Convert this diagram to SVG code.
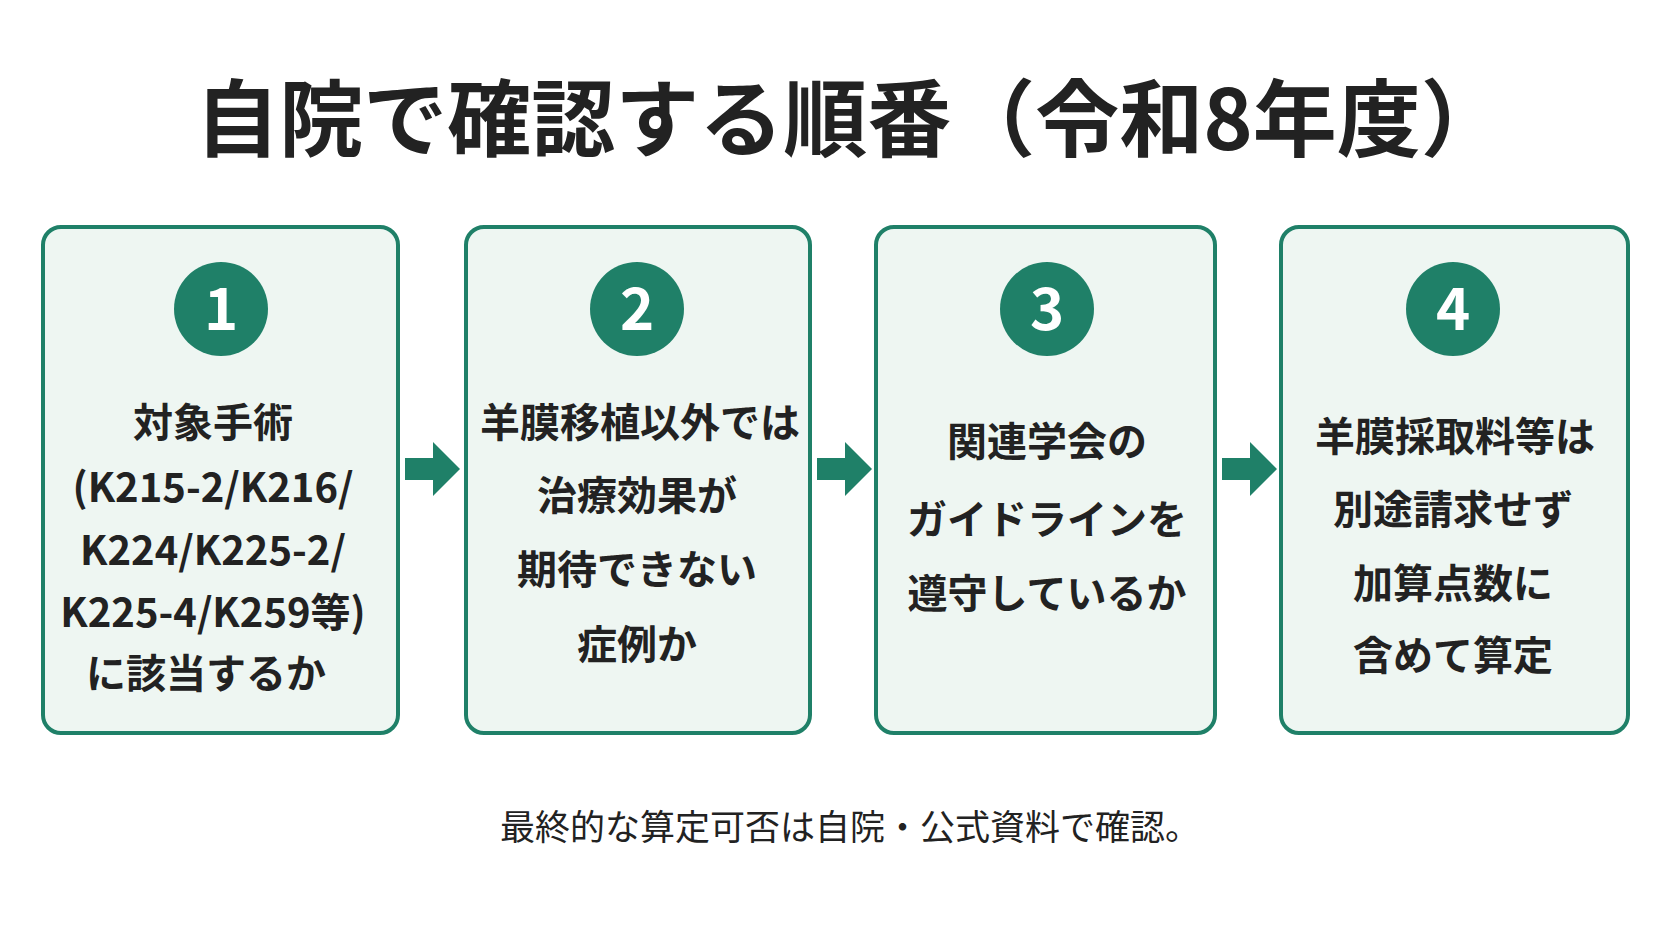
<svg xmlns="http://www.w3.org/2000/svg" width="1672" height="941" viewBox="0 0 1672 941">
<style>
text{font-family:"Noto Sans CJK JP","Noto Sans",sans-serif;fill:#222;text-anchor:middle}
.box{fill:#eef6f2;stroke:#1f8068;stroke-width:4}
.num{fill:#1f8068}
.n{fill:#fff;font-size:58px;font-weight:bold}
.t{font-size:40px;font-weight:bold}
.arr{fill:#1f8068}
</style>
<rect width="1672" height="941" fill="#fff"/>
<text x="850" y="150" style="font-size:84px;font-weight:bold">自院で確認する順番（令和8年度）</text>
<g id="n1"><rect class="box" x="43" y="227" width="355" height="506" rx="18"/><circle class="num" cx="221" cy="309" r="47"/><text class="n" x="221" y="330">1</text>
<text class="t" x="213" y="437">対象手術</text><text class="t" x="213" y="502">(K215-2/K216/</text><text class="t" x="213" y="565">K224/K225-2/</text><text class="t" x="213" y="627">K225-4/K259等)</text><text class="t" x="206" y="688">に該当するか</text></g>
<g id="n2"><rect class="box" x="466" y="227" width="344" height="506" rx="18"/><circle class="num" cx="637" cy="309" r="47"/><text class="n" x="637" y="330">2</text>
<text class="t" x="640" y="437">羊膜移植以外では</text><text class="t" x="637" y="510">治療効果が</text><text class="t" x="637" y="584">期待できない</text><text class="t" x="637" y="659">症例か</text></g>
<g id="n3"><rect class="box" x="876" y="227" width="339" height="506" rx="18"/><circle class="num" cx="1047" cy="309" r="47"/><text class="n" x="1047" y="330">3</text>
<text class="t" x="1047" y="456">関連学会の</text><text class="t" x="1047" y="534">ガイドラインを</text><text class="t" x="1047" y="608">遵守しているか</text></g>
<g id="n4"><rect class="box" x="1281" y="227" width="347" height="506" rx="18"/><circle class="num" cx="1453" cy="309" r="47"/><text class="n" x="1453" y="330">4</text>
<text class="t" x="1455" y="451">羊膜採取料等は</text><text class="t" x="1453" y="524">別途請求せず</text><text class="t" x="1453" y="598">加算点数に</text><text class="t" x="1453" y="670">含めて算定</text></g>
<g id="connectors">
<path class="arr" d="M405 458h28v-16l27 27-27 27v-16h-28z"/>
<path class="arr" d="M817 458h28v-16l27 27-27 27v-16h-28z"/>
<path class="arr" d="M1222 458h28v-16l27 27-27 27v-16h-28z"/>
</g>
<text x="850" y="840" style="font-size:35px">最終的な算定可否は自院・公式資料で確認。</text>
</svg>
